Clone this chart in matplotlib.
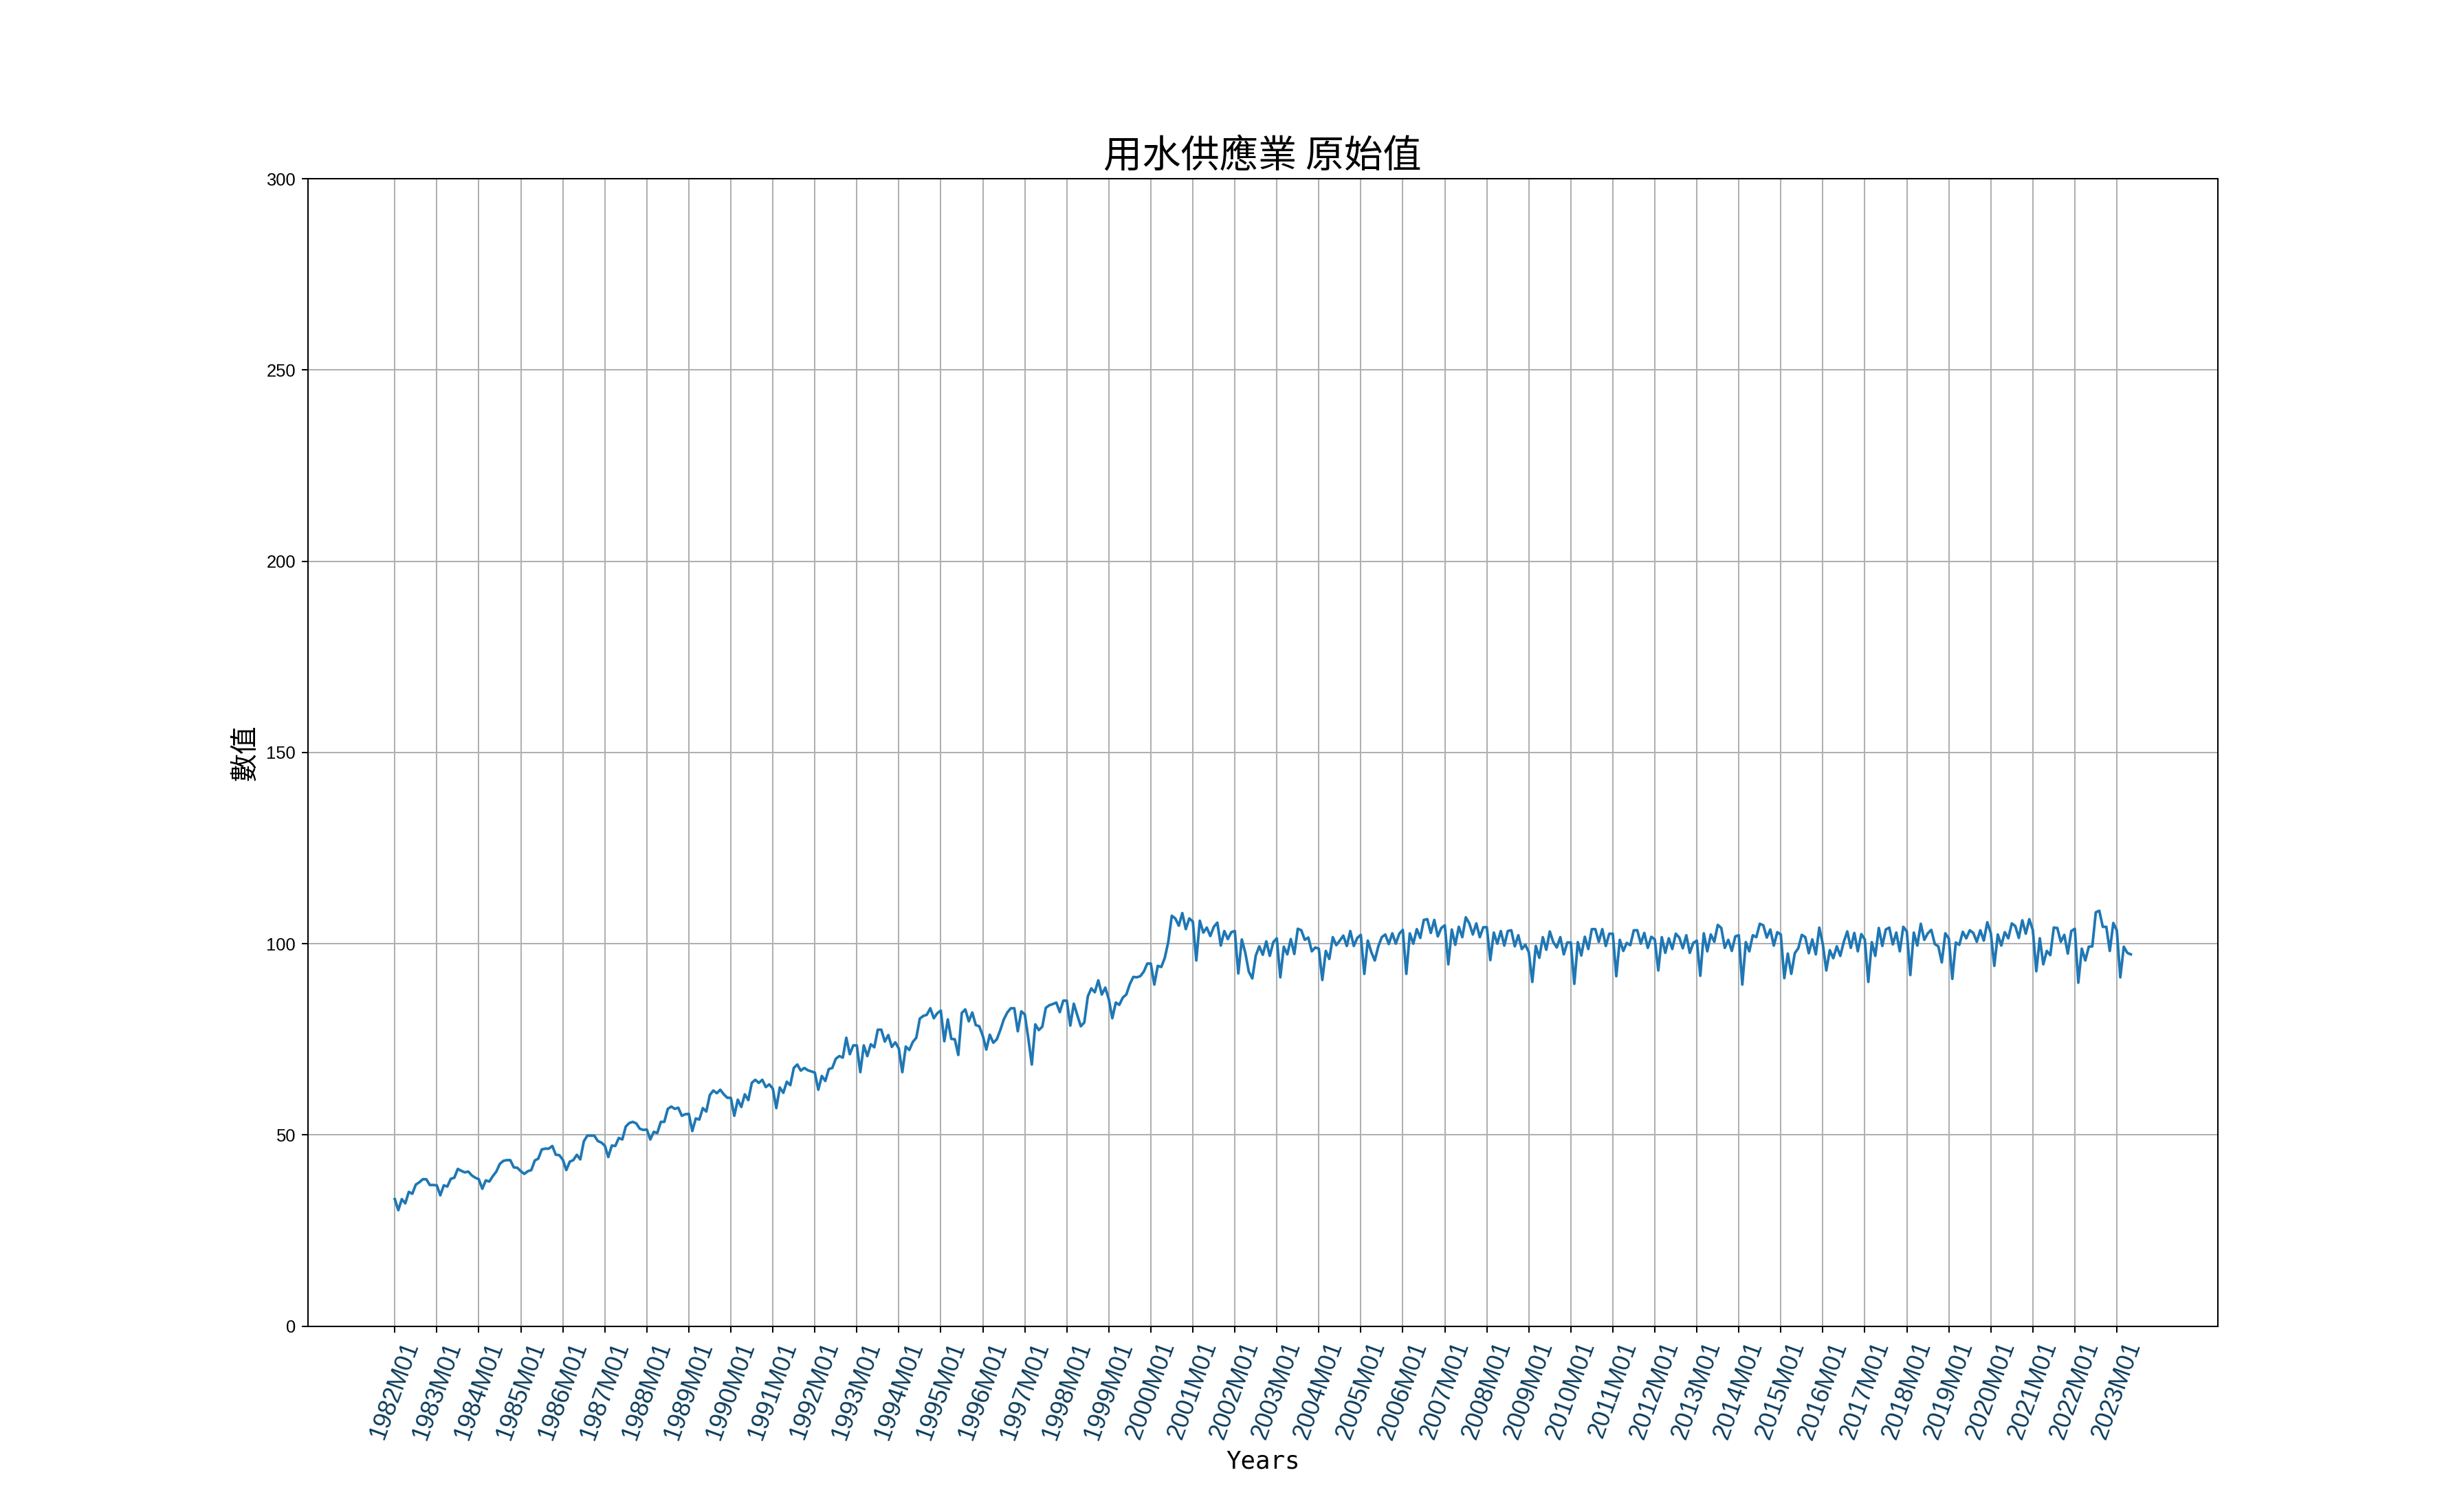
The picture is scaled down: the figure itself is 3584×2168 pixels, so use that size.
import numpy as np
import matplotlib
matplotlib.use("Agg")
import matplotlib.pyplot as plt

plt.rcParams['font.family'] = ['Noto Sans CJK TC', 'DejaVu Sans']
plt.rcParams['axes.unicode_minus'] = False

# monthly values, one row per year
values_1982_1989 = [
    33.2, 30.3, 33.2, 32.1, 35.1, 34.6, 37.0, 37.6, 38.4, 38.4, 36.9, 36.9,
    36.8, 34.2, 36.8, 36.5, 38.5, 38.8, 41.1, 40.6, 40.2, 40.4, 39.4, 38.8,
    38.4, 35.9, 38.1, 37.8, 39.2, 40.4, 42.4, 43.2, 43.4, 43.4, 41.5, 41.4,
    40.5, 39.8, 40.5, 40.8, 43.3, 43.8, 46.2, 46.4, 46.4, 47.1, 44.8, 44.7,
    43.5, 40.8, 43.0, 43.4, 44.8, 43.6, 48.3, 49.8, 49.8, 49.8, 48.4, 48.0,
    47.2, 44.2, 47.2, 47.1, 49.2, 48.8, 52.2, 53.1, 53.4, 53.0, 51.6, 51.3,
    51.4, 48.8, 50.8, 50.5, 53.4, 53.4, 56.8, 57.4, 56.8, 57.1, 55.0, 55.4,
    55.5, 51.0, 54.3, 54.0, 57.0, 56.1, 60.4, 61.6, 60.9, 61.8, 60.6, 59.7,
]
values_1990_1999 = [
    59.7, 55.0, 59.2, 57.3, 60.6, 59.1, 63.6, 64.4, 63.6, 64.4, 62.5, 63.2,
    62.1, 57.0, 62.4, 61.0, 63.9, 63.0, 67.5, 68.4, 66.8, 67.5, 66.9, 66.6,
    66.3, 61.8, 65.4, 64.1, 67.2, 67.5, 69.9, 70.6, 70.2, 75.4, 71.1, 73.4,
    73.4, 66.4, 73.4, 70.6, 73.7, 72.9, 77.5, 77.5, 74.4, 76.1, 73.0, 74.2,
    72.6, 66.4, 73.1, 72.2, 74.3, 75.4, 80.4, 81.1, 81.4, 83.1, 80.5, 81.8,
    82.5, 74.5, 80.2, 75.1, 75.0, 70.9, 81.9, 82.8, 79.7, 82.0, 78.7, 78.4,
    75.9, 72.3, 76.2, 74.1, 75.0, 77.4, 80.2, 82.0, 83.1, 83.1, 77.1, 82.3,
    81.5, 75.3, 68.4, 78.9, 77.4, 78.3, 83.2, 83.9, 84.2, 84.6, 82.1, 85.1,
    85.1, 78.6, 84.3, 81.3, 78.4, 79.4, 86.2, 88.3, 87.3, 90.4, 86.7, 88.5,
    85.5, 80.5, 84.6, 84.0, 85.9, 86.7, 89.4, 91.3, 91.2, 91.5, 92.7, 94.8,
]
values_2000_2009 = [
    94.8, 89.3, 94.2, 93.9, 96.3, 100.5, 107.3, 106.6, 104.7, 108.0, 103.8, 106.6,
    105.8, 95.6, 106.0, 102.9, 104.2, 102.0, 104.4, 105.5, 99.5, 103.3, 101.2, 103.0,
    103.3, 92.2, 101.1, 97.6, 92.7, 90.9, 96.9, 99.3, 97.1, 100.6, 96.8, 100.4,
    101.4, 91.2, 99.2, 97.2, 101.2, 97.3, 103.9, 103.5, 101.0, 101.6, 98.0, 99.0,
    98.7, 90.5, 98.1, 96.0, 101.7, 99.6, 100.8, 102.1, 99.4, 103.3, 99.4, 101.5,
    102.3, 92.1, 100.8, 97.8, 95.6, 99.3, 101.7, 102.4, 99.9, 102.7, 100.0, 102.6,
    103.6, 92.1, 102.7, 100.0, 103.8, 101.5, 106.2, 106.4, 102.8, 106.2, 101.9, 104.1,
    104.8, 94.6, 103.7, 99.7, 104.4, 101.7, 106.9, 105.3, 102.4, 105.3, 101.7, 104.3,
    104.3, 95.7, 102.9, 100.0, 103.3, 99.5, 103.3, 103.5, 99.3, 102.2, 98.6, 99.7,
    97.8, 90.0, 99.4, 96.3, 101.7, 98.4, 103.2, 100.4, 99.0, 101.7, 97.2, 100.3,
]
values_2010_2019 = [
    100.3, 89.5, 100.4, 96.9, 101.8, 98.6, 103.8, 103.8, 100.5, 103.8, 99.4, 102.6,
    102.6, 91.5, 101.0, 98.1, 100.2, 99.6, 103.5, 103.5, 100.0, 102.8, 98.9, 101.8,
    101.1, 93.0, 101.7, 97.6, 101.4, 98.6, 102.6, 101.6, 98.8, 102.2, 97.6, 100.2,
    100.8, 91.6, 102.7, 98.0, 102.4, 100.5, 104.9, 104.1, 98.9, 101.0, 98.1, 101.9,
    102.2, 89.3, 100.4, 98.0, 102.2, 101.7, 105.2, 104.8, 101.6, 103.7, 99.5, 103.0,
    102.4, 91.0, 97.4, 92.1, 97.5, 98.8, 102.3, 101.7, 97.5, 101.1, 97.2, 104.2,
    99.9, 93.0, 98.3, 96.2, 99.3, 96.8, 100.5, 103.2, 98.9, 102.8, 98.0, 102.5,
    101.1, 90.0, 100.4, 96.8, 104.1, 99.4, 103.7, 104.2, 99.8, 102.9, 98.0, 104.4,
    103.2, 91.8, 102.9, 99.5, 105.2, 101.0, 102.7, 103.6, 99.9, 99.3, 95.1, 102.7,
    101.4, 90.8, 100.3, 99.7, 103.1, 101.4, 103.5, 102.8, 100.5, 103.5, 100.8, 105.6,
]
values_2020_2023 = [
    102.8, 94.2, 102.4, 99.5, 103.0, 101.4, 105.3, 104.6, 101.5, 106.1, 102.6, 106.4,
    103.6, 92.8, 101.4, 94.6, 98.1, 97.0, 104.2, 104.1, 100.5, 102.3, 97.4, 103.3,
    103.9, 89.8, 98.7, 95.6, 99.2, 99.3, 108.2, 108.6, 104.4, 104.4, 98.1, 105.4,
    103.5, 91.2, 99.2, 97.6, 97.2,
]

values = np.array(values_1982_1989 + values_1990_1999 + values_2000_2009
                  + values_2010_2019 + values_2020_2023)

first_year = 1982
n = len(values)
dates = [f"{first_year + i // 12}M{i % 12 + 1:02d}" for i in range(n)]
x = np.arange(n)

tick_pos = x[::12]
tick_labels = [dates[i] for i in tick_pos]

fig = plt.figure(figsize=(3584 / 184, 2168 / 184), dpi=184)
ax = fig.add_subplot(111)

ax.plot(x, values)
ax.set_ylim(0, 300)
ax.set_xticks(tick_pos)
ax.set_xticklabels(tick_labels, rotation=70, fontsize=14, color='#0b3c5d',
                   family='Liberation Sans')
for lab in ax.get_yticklabels():
    lab.set_family('Liberation Sans')
ax.grid(True)

ax.set_title('用水供應業 原始值', fontsize=22)
ax.set_ylabel('數值', fontsize=16)
ax.set_xlabel('Years', fontsize=14, family='DejaVu Sans Mono')

fig.savefig('out.png', dpi=184)
